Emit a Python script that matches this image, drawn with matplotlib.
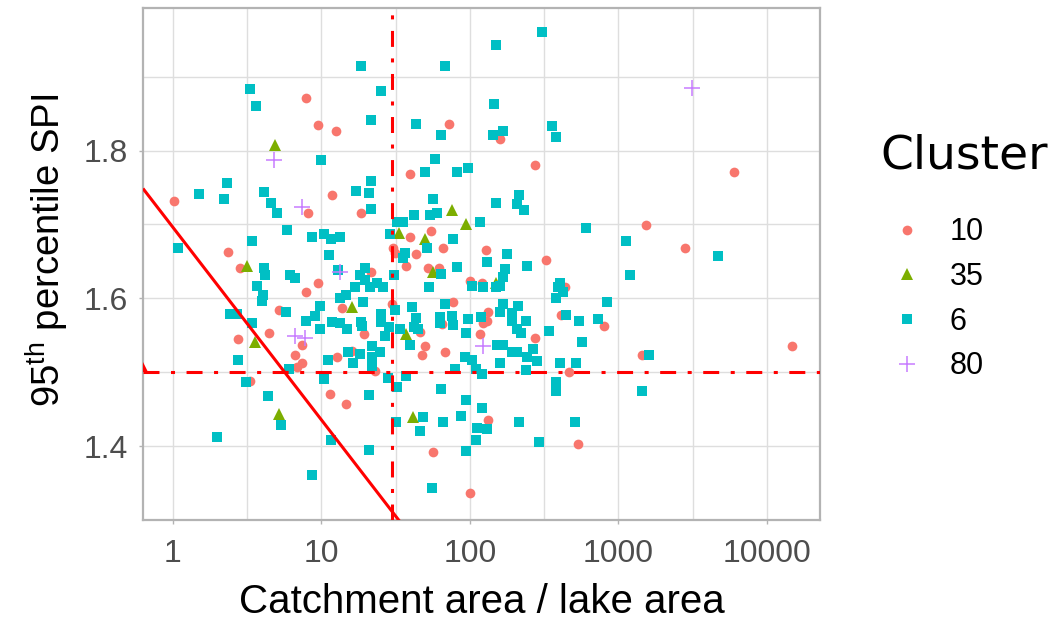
import numpy as np
import matplotlib
matplotlib.use("Agg")
import matplotlib.pyplot as plt
from matplotlib.lines import Line2D

# ---------------- data (x stored as log10 of catchment/lake area ratio) ----------------
c10_log = [0.896, 0.976, 1.098, 1.859, 2.202, 1.596, 2.438, 3.778, 0.007, 0.909,
           1.071, 1.266, 0.370, 0.451, 0.976, 1.333, 0.896, 0.714, 1.138, 0.646,
           1.286, 0.438, 0.869, 0.822, 0.869, 0.835, 1.104, 1.205, 0.519, 1.057,
           1.165, 1.596, 1.737, 1.818, 1.481, 1.495, 1.636, 1.569, 2.108, 2.512,
           1.717, 1.791, 2.000, 2.081, 2.640, 1.475, 1.886, 1.811, 2.121, 2.114,
           2.088, 2.613, 2.902, 1.663, 2.067, 2.438, 1.697, 1.677, 1.832, 1.360,
           2.667, 2.121, 2.727, 1.751, 2.000, 3.185, 3.448, 4.168, 3.158]
c10_spi = [1.871, 1.835, 1.827, 1.836, 1.816, 1.768, 1.780, 1.771, 1.732, 1.715,
           1.740, 1.715, 1.663, 1.641, 1.621, 1.636, 1.608, 1.584, 1.587, 1.553,
           1.552, 1.545, 1.537, 1.523, 1.513, 1.507, 1.521, 1.529, 1.488, 1.471,
           1.457, 1.683, 1.691, 1.668, 1.668, 1.661, 1.660, 1.644, 1.665, 1.652,
           1.641, 1.641, 1.624, 1.621, 1.615, 1.592, 1.595, 1.565, 1.581, 1.569,
           1.567, 1.577, 1.563, 1.555, 1.552, 1.547, 1.536, 1.524, 1.527, 1.501,
           1.500, 1.436, 1.403, 1.392, 1.337, 1.699, 1.668, 1.536, 1.524]

c35_log = [0.687, 0.498, 1.205, 0.552, 0.714, 1.879, 1.973, 1.522, 1.697, 1.751,
           2.175, 1.569, 1.616]
c35_spi = [1.807, 1.644, 1.588, 1.541, 1.444, 1.720, 1.701, 1.688, 1.681, 1.636,
           1.621, 1.552, 1.440]

c6_log = [1.266, 0.519, 0.559, 1.333, 0.997, 2.485, 2.175, 1.832, 1.401, 2.162,
          1.636, 1.805, 2.155, 2.222, 2.552, 2.579, 1.764, 1.697, 1.912, 1.987,
          0.364, 0.175, 0.343, 0.613, 0.660, 0.700, 1.232, 1.320, 1.333, 1.333,
          0.768, 0.532, 0.034, 0.936, 1.017, 1.064, 1.125, 1.051, 0.613, 0.620,
          0.788, 0.822, 1.111, 1.293, 1.259, 1.293, 1.226, 1.327, 0.566, 0.606,
          0.599, 1.125, 1.165, 1.279, 0.761, 0.384, 0.431, 0.990, 0.956, 0.896,
          1.071, 1.125, 1.266, 1.273, 0.532, 0.990, 1.172,
          1.751, 2.330, 2.175, 2.316, 2.364, 2.067, 1.623, 1.731, 1.778, 1.508,
          1.549, 1.461, 1.886, 1.710, 1.562, 1.549, 2.249, 2.114, 2.384, 2.781,
          1.912, 1.805, 1.488, 2.236, 2.222, 1.374, 1.414, 1.724, 2.013, 2.088,
          2.202, 2.175, 2.606, 2.593, 2.626, 2.579, 2.923, 1.495, 1.609, 1.832,
          2.222, 2.323, 2.202, 2.283, 1.401, 1.401, 1.636, 1.798, 1.879, 1.798,
          1.886, 1.987, 2.074, 2.283, 2.377, 2.316, 2.343, 2.646, 2.734, 2.862,
          1.455, 1.529, 1.623, 1.650, 1.428, 1.973, 2.532, 2.754, 1.596, 2.182,
          2.222, 3.051, 3.670, 3.077,
          0.438, 0.781, 1.044, 1.178, 1.259, 1.212, 1.340, 1.394, 1.340, 1.340,
          0.492, 0.640, 0.727, 0.296, 1.017, 1.320, 1.064, 1.320, 0.936,
          2.283, 2.316, 2.424, 2.384, 2.451, 1.966, 2.013, 2.202, 2.606, 2.714,
          1.899, 2.040, 2.081, 2.377, 1.448, 1.569, 1.508, 1.805, 2.579, 2.579,
          1.973, 2.081, 1.939, 1.684, 1.502, 1.818, 2.047, 2.114, 2.330, 2.707,
          1.663, 2.040, 2.465, 1.973, 1.744, 3.205, 3.158]
c6_spi = [1.915, 1.883, 1.860, 1.841, 1.787, 1.961, 1.943, 1.915, 1.881, 1.863,
          1.836, 1.821, 1.821, 1.827, 1.833, 1.819, 1.789, 1.771, 1.771, 1.777,
          1.756, 1.741, 1.735, 1.744, 1.729, 1.715, 1.745, 1.743, 1.759, 1.721,
          1.693, 1.677, 1.668, 1.683, 1.687, 1.680, 1.683, 1.659, 1.641, 1.631,
          1.631, 1.627, 1.639, 1.641, 1.631, 1.625, 1.616, 1.615, 1.617, 1.605,
          1.596, 1.600, 1.605, 1.595, 1.581, 1.579, 1.579, 1.589, 1.576, 1.569,
          1.568, 1.567, 1.568, 1.563, 1.567, 1.559, 1.559,
          1.735, 1.740, 1.729, 1.728, 1.719, 1.704, 1.713, 1.713, 1.716, 1.703,
          1.703, 1.687, 1.681, 1.668, 1.661, 1.655, 1.660, 1.649, 1.644, 1.695,
          1.643, 1.633, 1.631, 1.640, 1.629, 1.621, 1.615, 1.616, 1.617, 1.616,
          1.617, 1.615, 1.621, 1.615, 1.608, 1.601, 1.595, 1.584, 1.588, 1.592,
          1.592, 1.589, 1.581, 1.580, 1.579, 1.568, 1.573, 1.575, 1.576, 1.567,
          1.564, 1.572, 1.575, 1.569, 1.569, 1.559, 1.553, 1.577, 1.569, 1.572,
          1.561, 1.559, 1.561, 1.559, 1.549, 1.553, 1.556, 1.541, 1.537, 1.537,
          1.537, 1.677, 1.657, 1.631,
          1.517, 1.505, 1.517, 1.527, 1.525, 1.512, 1.535, 1.527, 1.521, 1.508,
          1.487, 1.468, 1.428, 1.412, 1.491, 1.469, 1.408, 1.395, 1.361,
          1.528, 1.527, 1.531, 1.520, 1.515, 1.521, 1.516, 1.512, 1.512, 1.512,
          1.505, 1.505, 1.497, 1.503, 1.492, 1.495, 1.480, 1.477, 1.487, 1.475,
          1.463, 1.452, 1.441, 1.439, 1.433, 1.433, 1.425, 1.423, 1.433, 1.433,
          1.420, 1.408, 1.405, 1.393, 1.343, 1.524, 1.475]

c80_log = [0.680, 3.495, 0.869, 1.125, 0.822, 0.889, 2.088]
c80_spi = [1.787, 1.885, 1.724, 1.636, 1.549, 1.547, 1.536]

cluster_names = ["10", "35", "6", "80"]
cluster_colors = ["#F8766D", "#7CAE00", "#00BFC4", "#C77CFF"]

ratio_threshold = 30.0
spi_threshold = 1.5
line_intercept = 1.696   # SPI at ratio = 1
line_slope = -0.2606     # SPI per decade of ratio

# ---------------- figure ----------------
plt.rcParams["lines.scale_dashes"] = False
plt.rcParams["mathtext.fontset"] = "custom"
plt.rcParams["mathtext.rm"] = "Liberation Sans"
plt.rcParams["font.family"] = ["Liberation Sans", "DejaVu Sans"]

W, H = 1059, 626
fig = plt.figure(figsize=(W / 100, H / 100), dpi=100)
ax = fig.add_axes([143 / W, (H - 520) / H, 677 / W, 512 / H])
ax.set_xscale("log")
ax.set_xlim(10 ** -0.202, 10 ** 4.357)
ax.set_ylim(1.311, 1.993)

ax.set_xticks([1, 10, 100, 1000, 10000])
ax.set_xticklabels(["1", "10", "100", "1000", "10000"])
ax.set_xticks([10 ** 0.5, 10 ** 1.5, 10 ** 2.5, 10 ** 3.5], minor=True)
ax.set_yticks([1.4, 1.6, 1.8])
ax.set_yticklabels(["1.4", "1.6", "1.8"])
ax.set_yticks([1.3, 1.5, 1.7, 1.9], minor=True)
ax.xaxis.set_minor_formatter(matplotlib.ticker.NullFormatter())

ax.grid(which="both", color="#DEDEDE", lw=1.0, zorder=0)
ax.set_axisbelow(True)
for s in ax.spines.values():
    s.set_color("#B3B3B3")
    s.set_linewidth(1.6)
ax.tick_params(which="major", length=3.2, width=1.0, color="#B3B3B3",
               labelsize=23, labelcolor="#4D4D4D")
ax.tick_params(axis="x", which="major", pad=10.5)
ax.tick_params(axis="y", which="major", pad=7.5)
ax.tick_params(which="minor", length=0)

# points
kw = dict(linestyle="none", zorder=3)
ax.plot(10 ** np.array(c10_log), c10_spi, marker="o", ms=7.0, mew=0,
        color=cluster_colors[0], **kw)
ax.plot(10 ** np.array(c35_log), c35_spi, marker="^", ms=8.6, mew=0,
        color=cluster_colors[1], **kw)
ax.plot(10 ** np.array(c6_log), c6_spi, marker="s", ms=7.2, mew=0,
        color=cluster_colors[2], **kw)
ax.plot(10 ** np.array(c80_log), c80_spi, marker="+", ms=11, mew=1.1,
        color=cluster_colors[3], **kw)

# threshold lines
dd = (11.5, 8.3, 2.9, 8.3)
ax.axvline(ratio_threshold, color="red", lw=2.2, dashes=dd, zorder=4)
ax.axhline(spi_threshold, color="red", lw=2.2, dashes=dd, zorder=4)
xl = np.logspace(-0.202, 4.357, 200)
ax.plot(xl, line_intercept + line_slope * np.log10(xl), color="red", lw=2.2,
        zorder=4, solid_capstyle="butt")
ax.plot([10 ** -0.202], [spi_threshold + 0.0065], marker="^", ms=7, mew=0,
        color="red", zorder=4, clip_on=True)

# axis titles
ax.set_xlabel("Catchment area / lake area", fontsize=29, color="black")
ax.xaxis.label.set_verticalalignment("center")
ax.xaxis.set_label_coords(0.5, (520 - 602) / 512)
ax.set_ylabel(r"$\mathregular{95^{th}}$ percentile SPI", fontsize=27.5, color="black")
ax.yaxis.label.set_verticalalignment("center")
ax.yaxis.set_label_coords(-(143 - 47) / 677, (520 - 250) / 512)

# legend (title drawn as a separate text so the gap can match)
fig.text(880 / W, 1 - 156 / H, "Cluster", fontsize=34, family="DejaVu Sans",
         ha="left", va="center", color="black")
handles = [
    Line2D([], [], ls="none", marker="o", ms=7.0, mew=0, color=cluster_colors[0]),
    Line2D([], [], ls="none", marker="^", ms=8.8, mew=0, color=cluster_colors[1]),
    Line2D([], [], ls="none", marker="s", ms=7.2, mew=0, color=cluster_colors[2]),
    Line2D([], [], ls="none", marker="+", ms=11.5, mew=1.1, color=cluster_colors[3]),
]
leg = ax.legend(handles, cluster_names, loc="upper left",
                bbox_to_anchor=(868 / W, 1 - 205 / H), bbox_transform=fig.transFigure,
                frameon=False, fontsize=22, handlelength=1.76, handletextpad=0.52,
                labelspacing=0.48, borderaxespad=0)

fig.savefig("out.png", dpi=100)
